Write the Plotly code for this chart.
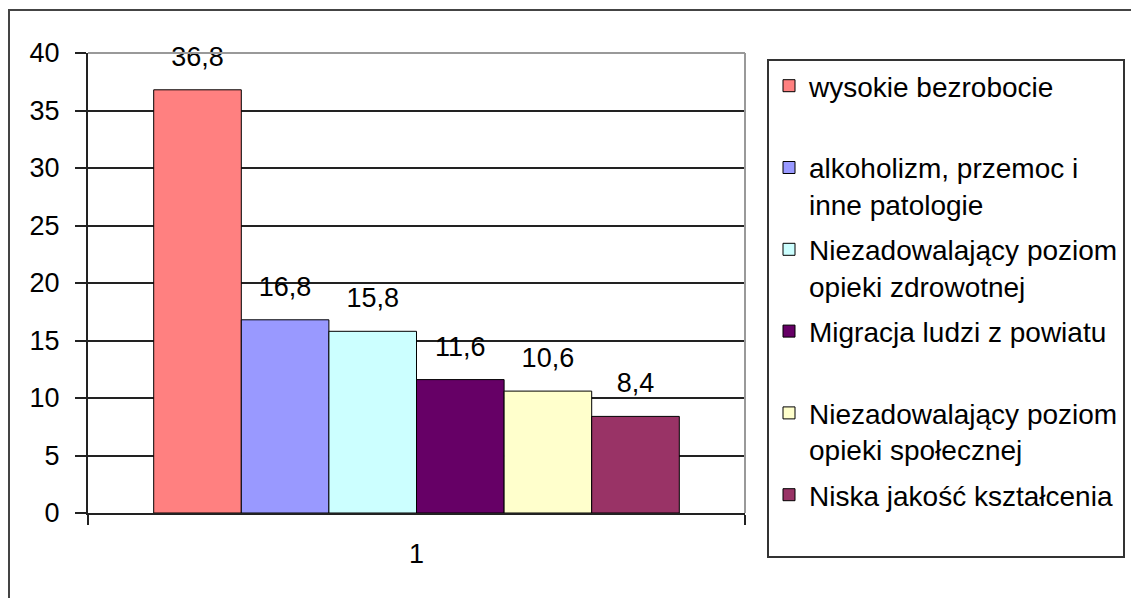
import plotly.graph_objects as go

# dane z wykresu
categories = ["1"]
series_names = [
    "wysokie bezrobocie",
    "alkoholizm, przemoc i<br>inne patologie",
    "Niezadowalający poziom<br>opieki zdrowotnej",
    "Migracja ludzi z powiatu",
    "Niezadowalający poziom<br>opieki społecznej",
    "Niska jakość kształcenia",
]
values = [36.8, 16.8, 15.8, 11.6, 10.6, 8.4]
colors = ["#FF8080", "#9999FF", "#CCFFFF", "#660066", "#FFFFCC", "#993366"]
y_ticks = [0, 5, 10, 15, 20, 25, 30, 35, 40]

W, H = 1139, 598
OFF = 8  # margines body strony
L, R, T, B = 88 - OFF, W - 745 + OFF, 53 - OFF, H - 513 + OFF
pw, ph = W - L - R, H - T - B

FONT = "Liberation Sans, Arial, sans-serif"
FS = 27

fig = go.Figure()
for i, (name, val, col) in enumerate(zip(series_names, values, colors)):
    # jednoliniowe wpisy legendy dostają pustą drugą linię (jak w Excelu)
    label = name if "<br>" in name else name + "<br> "
    fig.add_trace(go.Bar(
        x=categories, y=[val], name=label,
        marker=dict(color=col, line=dict(color="black", width=1)),
        legendgroup=str(i),
    ))
# etykiety wartości nad słupkami
for i, val in enumerate(values):
    fig.add_trace(go.Scatter(
        x=categories, y=[val], mode="markers+text",
        text=[f"{val:.1f}".replace(".", ",")], textposition="top center",
        textfont=dict(size=FS, color="black", family=FONT),
        marker=dict(size=26, opacity=0),
        cliponaxis=False, showlegend=False, hoverinfo="skip",
    ))

def px_x(x):
    return (x - OFF - L) / pw

def px_y(y):
    return (H - B - (y - OFF)) / ph

fig.update_layout(
    width=W, height=H,
    margin=dict(l=L, r=R, t=T, b=B),
    paper_bgcolor="white", plot_bgcolor="white",
    font=dict(family=FONT, size=FS, color="black"),
    separators=", ",
    barmode="group", bargap=0.2, bargroupgap=0,
    scattermode="group", scattergap=0.2,
    showlegend=True,
    legend=dict(
        x=px_x(767), y=px_y(59), xanchor="left", yanchor="top",
        bordercolor="#333", borderwidth=2, bgcolor="white",
        font=dict(size=28, family=FONT, color="black"),
        tracegroupgap=6, valign="top", traceorder="grouped",
        maxheight=580,
    ),
    xaxis=dict(
        range=[-0.5, 0.5], type="category",
        tickson="boundaries", ticks="outside", ticklen=10, tickwidth=2, tickcolor="#222",
        showline=True, linecolor="#222", linewidth=2,
        showgrid=False, ticklabelstandoff=16,
        tickfont=dict(size=FS),
    ),
    yaxis=dict(
        range=[0, 40], tickvals=y_ticks,
        ticks="outside", ticklen=11, tickwidth=2, tickcolor="#222",
        showline=True, linecolor="#222", linewidth=2,
        showgrid=True, gridcolor="#222", gridwidth=1.5,
        zeroline=False, ticklabelstandoff=10,
        tickfont=dict(size=FS),
    ),
    shapes=[
        # ramka całego wykresu
        dict(type="rect", xref="paper", yref="paper",
             x0=px_x(9), x1=px_x(W + 40), y0=px_y(H + 40), y1=px_y(10),
             line=dict(color="#444", width=2), layer="below"),
        # szara ramka obszaru kreślenia (góra i prawa)
        dict(type="line", xref="paper", yref="paper", x0=0, x1=1, y0=1, y1=1,
             line=dict(color="#999", width=2), layer="above"),
        dict(type="line", xref="paper", yref="paper", x0=1, x1=1, y0=0, y1=1,
             line=dict(color="#999", width=2), layer="above"),
    ],
)

fig.write_html("out.html")
